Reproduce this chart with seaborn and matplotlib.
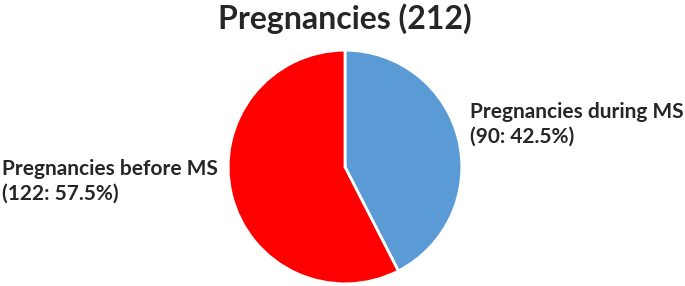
import matplotlib
matplotlib.use("Agg")
import matplotlib.pyplot as plt
import seaborn as sns

categories = ["Pregnancies during MS", "Pregnancies before MS"]
counts = [90, 122]
percents = [42.5, 57.5]
colors = ["#5B9BD5", "#FF0000"]

sns.set_theme(style="white")
plt.rcParams['font.family'] = ['Lato', 'DejaVu Sans']

fig = plt.figure(figsize=(6.85, 2.86), dpi=100)
ax = fig.add_axes([227/685, 1/286, 236/685, 236/286])

ax.pie(
    counts,
    colors=colors,
    startangle=90,
    counterclock=False,
    wedgeprops={'edgecolor': 'white', 'linewidth': 2},
)
ax.set_xlim(-1.01, 1.01)
ax.set_ylim(-1.01, 1.01)
ax.set_aspect('equal')
ax.axis('off')

total = sum(counts)
fig.text(345/685, 1 - 29/286, f"Pregnancies ({total})", ha='center', va='baseline',
         fontsize=23, fontweight='bold')

labels = [f"{c}\n({n}: {p}%)" for c, n, p in zip(categories, counts, percents)]
fig.text(470/685, 1 - 143/286, labels[0], ha='left', va='baseline',
         fontsize=15, fontweight='bold', linespacing=1.3)
fig.text(2/685, 1 - 200/286, labels[1], ha='left', va='baseline',
         fontsize=15, fontweight='bold', linespacing=1.3)

fig.savefig("out.png", dpi=100)
